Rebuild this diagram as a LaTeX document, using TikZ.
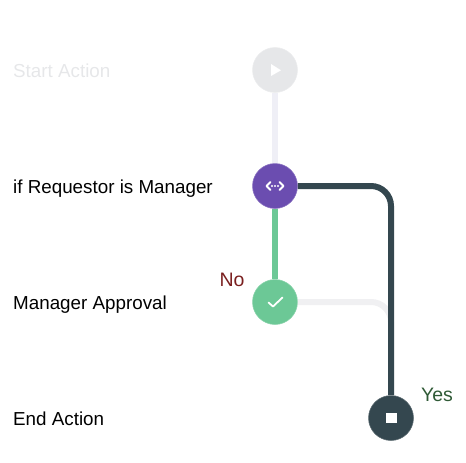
\documentclass[tikz,border=0pt]{standalone}
\usepackage{fontspec}
\setmainfont{Liberation Sans}
\definecolor{startgray}{HTML}{E6E7E9}
\definecolor{startline}{HTML}{EFEFF6}
\definecolor{ifpurple}{HTML}{6B4DB0}
\definecolor{okgreen}{HTML}{6CC896}
\definecolor{enddark}{HTML}{34474F}
\definecolor{offline}{HTML}{F0F0F2}
\definecolor{nored}{HTML}{7A1F1F}
\definecolor{yesgreen}{HTML}{2F5A36}
\tikzset{
	stepdot/.style={circle, minimum size=45pt, inner sep=0pt, draw=#1!80!white, line width=.5pt, fill=#1},
	steplabel/.style={anchor=base west, font=\fontsize{18.8}{18.8}\selectfont, inner sep=0pt, text=black},
	wire/.style={line width=6pt, #1},
	icon/.style={white, line width=1.8pt, line cap=round, line join=round}
}
\begin{document}
\begin{tikzpicture}[x=1pt, y=-1pt]
	\useasboundingbox (0,0) rectangle (466,463);
	\node [stepdot=startgray] (start) at (275,70) {};
	\node [stepdot=ifpurple] (cond) at (275,186) {};
	\node [stepdot=okgreen] (approve) at (275,302) {};
	\node [stepdot=enddark] (end) at (391,418) {};
	\node [steplabel, text=startgray] (startlabel) at (13,77) {Start Action};
	\node [steplabel] (condlabel) at (13,193) {if Requestor is Manager};
	\node [steplabel] (approvelabel) at (13,309) {Manager Approval};
	\node [steplabel] (endlabel) at (13,425) {End Action};
	\node [anchor=center, font=\fontsize{19.5}{19.5}\selectfont, inner sep=0pt, text=nored] (nolabel) at (232,279.5) {No};
	\node [anchor=center, font=\fontsize{19.5}{19.5}\selectfont, inner sep=0pt, text=yesgreen] (yeslabel) at (437,395) {Yes};
	\draw [wire=startline] (start) -- (cond);
	\draw [wire=okgreen] (cond) -- (approve);
	\draw [wire=offline, rounded corners=20pt] (approve) -| (end);
	\draw [wire=enddark, rounded corners=20pt] (cond) -| (end);
	\fill [white] (271,64) -- (281,70.3) -- (271,76) -- cycle;
	\draw [icon] (270.5,182) -- (266.5,186) -- (270.5,190) (279.5,182) -- (283.5,186) -- (279.5,190);
	\foreach \i in {272,275,278} \fill [white] (\i,186) circle (1.1pt);
	\draw [icon] (268.5,302.5) -- (273,306.5) -- (282.5,297.5);
	\fill [white] (385.7,412.7) rectangle (397,423.3);
\end{tikzpicture}
\end{document}
